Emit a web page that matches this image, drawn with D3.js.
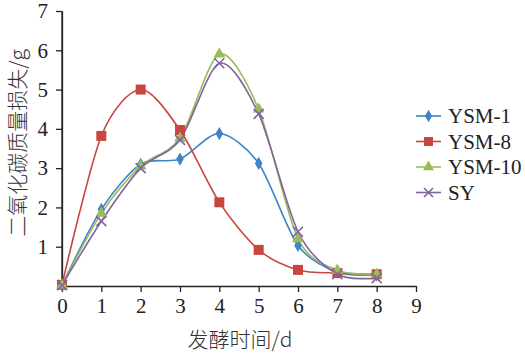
<!DOCTYPE html>
<html>
<head>
<meta charset="utf-8">
<style>
body{ margin:0; background:#fff; }
.axis path, .axis line{ stroke:#222; stroke-width:1.3; }
.title{ font-family:"Noto Sans CJK SC", sans-serif; font-size:21px; font-weight:300; fill:#333; }
</style>
<script src="https://d3js.org/d3.v7.min.js"></script>
</head>
<body>
<script>
var w = 525, h = 359;
var serif = "'Liberation Serif', 'Times New Roman', Times, 'DejaVu Serif', serif";

// days
var days = [0, 1, 2, 3, 4, 5, 6, 7, 8];
var xTicks = [0, 1, 2, 3, 4, 5, 6, 7, 8, 9];
var yTicks = [1, 2, 3, 4, 5, 6, 7];

// CO2 mass loss (g)
var ysm1  = [0.02, 1.95, 3.10, 3.23, 3.88, 3.12, 1.03, 0.35, 0.28];
var ysm8  = [0.03, 3.82, 5.00, 3.97, 2.13, 0.92, 0.41, 0.33, 0.30];
var ysm10 = [0.02, 1.85, 3.05, 3.76, 5.90, 4.50, 1.20, 0.40, 0.30];
var sy    = [0.02, 1.65, 3.00, 3.72, 5.67, 4.38, 1.38, 0.30, 0.20];

var seriesNames = ["YSM-1", "YSM-8", "YSM-10", "SY"];
var seriesVals = [ysm1, ysm8, ysm10, sy];
var colors = ["#3f84c9", "#c9453f", "#9bbb59", "#8064a2"];
var shapes = ["diamond", "square", "triangle", "cross"];

var xScale = d3.scaleLinear().domain([0, 9]).range([62, 416]);
var yScale = d3.scaleLinear().domain([0, 7]).range([286, 11]);

var svg = d3.select("body").append("svg")
    .attr("width", w)
    .attr("height", h);

var xAxis = svg.append("g")
    .attr("class", "axis")
    .attr("transform", "translate(0,286)")
    .call(d3.axisBottom(xScale).tickValues(xTicks).tickFormat(d3.format("d"))
        .tickSize(6).tickSizeOuter(0).tickPadding(6));

var yAxis = svg.append("g")
    .attr("class", "axis")
    .attr("transform", "translate(62,0)")
    .call(d3.axisLeft(yScale).tickValues(yTicks).tickFormat(d3.format("d"))
        .tickSize(6).tickSizeOuter(0).tickPadding(8));

[xAxis, yAxis].forEach(function(a){
    a.attr("font-family", serif).attr("font-size", 21);
    a.selectAll("text").style("font-family", serif).style("font-size", "21px").style("fill", "#222");
});

svg.append("line")
    .attr("x1", 62).attr("x2", 62)
    .attr("y1", yScale(0)).attr("y2", yScale(7))
    .attr("stroke", "#222").attr("stroke-width", 1.3);

var line = d3.line()
    .x(function(d, i){ return xScale(days[i]); })
    .y(function(d){ return yScale(d); })
    .curve(d3.curveCardinal.tension(0.15));

function marker(g, shape, color, size){
    if (shape === "diamond") {
        g.append("path").attr("d", d3.symbol().type(d3.symbolDiamond).size(size * 5)())
            .attr("fill", color);
    } else if (shape === "square") {
        g.append("rect").attr("x", -size / 2).attr("y", -size / 2)
            .attr("width", size).attr("height", size).attr("fill", color);
    } else if (shape === "triangle") {
        g.append("path").attr("d", d3.symbol().type(d3.symbolTriangle).size(size * 6)())
            .attr("fill", color);
    } else {
        var s = size / 2;
        g.append("path").attr("d", "M" + (-s) + "," + (-s) + "L" + s + "," + s + "M" + (-s) + "," + s + "L" + s + "," + (-s))
            .attr("stroke", color).attr("stroke-width", 1.6).attr("fill", "none");
    }
}

seriesVals.forEach(function(vals, k){
    svg.append("path")
        .datum(vals)
        .attr("fill", "none")
        .attr("stroke", colors[k])
        .attr("stroke-width", 1.6)
        .attr("d", line);
});

seriesVals.forEach(function(vals, k){
    vals.forEach(function(v, i){
        var g = svg.append("g")
            .attr("transform", "translate(" + xScale(days[i]) + "," + yScale(v) + ")");
        marker(g, shapes[k], colors[k], 10);
    });
});

// legend
var legend = svg.append("g");
seriesNames.forEach(function(name, k){
    var y = 116 + k * 25.5;
    legend.append("line")
        .attr("x1", 416).attr("x2", 441)
        .attr("y1", y).attr("y2", y)
        .attr("stroke", colors[k]).attr("stroke-width", 1.6);
    var g = legend.append("g").attr("transform", "translate(428.5," + y + ")");
    marker(g, shapes[k], colors[k], 9);
    legend.append("text")
        .attr("x", 448).attr("y", y + 7)
        .style("font-family", serif)
        .style("font-size", "21px")
        .style("fill", "#222")
        .text(name);
});

// axis titles
svg.append("text")
    .attr("class", "title")
    .attr("x", 240)
    .attr("y", 347)
    .attr("text-anchor", "middle")
    .text("发酵时间/d");

svg.append("text")
    .attr("class", "title")
    .attr("transform", "translate(25,143) rotate(-90)")
    .attr("text-anchor", "middle")
    .text("二氧化碳质量损失/g");
</script>
</body>
</html>
